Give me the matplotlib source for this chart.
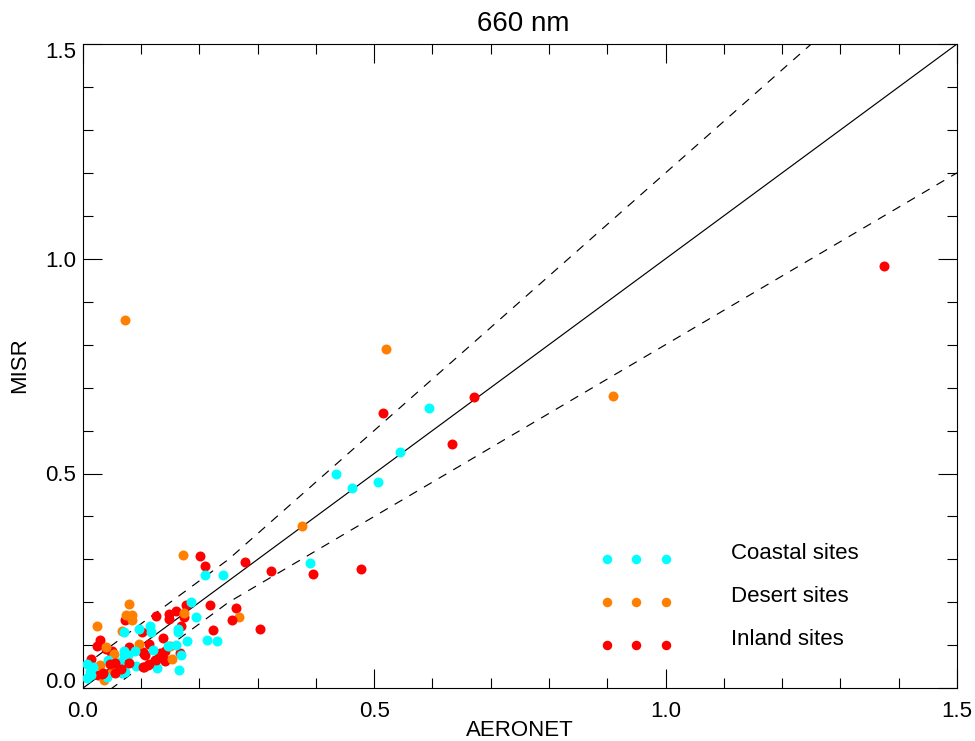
import matplotlib
matplotlib.use("Agg")
import matplotlib.pyplot as plt
from matplotlib.ticker import MultipleLocator
from matplotlib.transforms import ScaledTranslation

plt.rcParams['font.family'] = ['Liberation Sans', 'DejaVu Sans']

inland_x = [1.374,.671,.633,.516,.477,.395,.323,.279,.305,.263,.218,.224,.201,.209,
            .177,.160,.148,.148,.173,.126,.073,.168,.102,.137,.114,.080,.029,.024,.015,
            .050,.104,.107,.134,.142,.167,.124,.142,.070,.067,
            .053,.027,.038,.040,.106,.132,.141,.112,.049]
inland_y = [.984,.678,.568,.640,.277,.267,.274,.294,.137,.188,.194,.136,.309,.284,
            .194,.179,.172,.162,.165,.168,.160,.145,.130,.117,.102,.095,.113,.098,.068,
            .088,.085,.077,.081,.088,.082,.067,.064,.058,.038,
            .038,.030,.034,.092,.081,.082,.065,.054,.085]
inland_top_x = [.256,.079,.104,.113,.033,.047,.055,.035,.055,.066,.106,.126]
inland_top_y = [.159,.060,.050,.056,.034,.056,.058,.035,.035,.046,.050,.065]

desert_x = [.073,.520,.909,.377,.172,.080,.085,.075,.084,.025,.173,.268,.067,.097,.040,
            .053,.030,.050,.036,.150,.154]
desert_y = [.858,.789,.680,.379,.310,.196,.171,.170,.158,.146,.176,.165,.133,.104,.096,
            .081,.055,.037,.020,.098,.069]

coastal_x = [.594,.544,.507,.462,.434,.390,.210,.241,.185,.194,.164,.163,.115,.117,.097,
             .070,.179,.214,.230,.160,.147,.120,.090,.070,.070,.078,.044,.064,.168,.128,
             .165,.091,.073,.067,.041,.007,.018,.013,.014,.008]
coastal_y = [.652,.549,.480,.466,.498,.291,.263,.264,.201,.165,.139,.132,.144,.130,.137,
             .131,.111,.113,.109,.100,.099,.090,.088,.087,.077,.077,.065,.061,.077,.047,
             .042,.051,.038,.036,.026,.057,.050,.038,.030,.024]

one_x = [0, 1.5]
one_y = [0, 1.5]
env_x = [0, .25, 1.5]
env_upper = [.05, .30, 1.80]
env_lower = [-.05, .20, 1.20]

legend_labels = ['Coastal sites', 'Desert sites', 'Inland sites']
legend_colors = ['#00ffff', '#ff8000', '#ff0000']
legend_xs = [.90, .95, 1.00]
legend_ys = [.30, .20, .10]
legend_text_x = 1.112
y_tick_values = [0, .5, 1.0, 1.5]
y_tick_labels = ['0.0', '0.5', '1.0', '1.5']
x_tick_values = [0, .5, 1.0, 1.5]
x_tick_labels = ['0.0', '0.5', '1.0', '1.5']

W, H = 975, 741
L, R, T, B = 82.7, 957, 44, 688.3
fig = plt.figure(figsize=(W/100, H/100), dpi=100)
ax = fig.add_axes([L/W, 1-B/H, (R-L)/W, (B-T)/H])
ax.set_xlim(0, 1.5)
ax.set_ylim(0, 1.5)

ms = 10*0.72
ax.plot(one_x, one_y, color='k', lw=0.85, zorder=1)
for e in (env_upper, env_lower):
    ax.plot(env_x, e, color='k', lw=0.85, dashes=(7.6, 6.8), zorder=1)

ax.plot(inland_x, inland_y, 'o', color='#ff0000', ms=ms, mew=0, zorder=2)
ax.plot(desert_x, desert_y, 'o', color='#ff8000', ms=ms, mew=0, zorder=3)
ax.plot(coastal_x, coastal_y, 'o', color='#00ffff', ms=ms, mew=0, zorder=4)
ax.plot(inland_top_x, inland_top_y, 'o', color='#ff0000', ms=ms, mew=0, zorder=5)

for lab, col, ly in zip(legend_labels, legend_colors, legend_ys):
    ax.plot(legend_xs, [ly]*3, 'o', color=col, ms=ms*0.95, mew=0, zorder=3)
    ax.text(legend_text_x, ly, lab, fontsize=16, color='k', ha='left', va='baseline')

ax.xaxis.set_minor_locator(MultipleLocator(.1))
ax.yaxis.set_minor_locator(MultipleLocator(.1))
ax.set_xticks(x_tick_values)
ax.set_yticks(y_tick_values)
ax.set_xticklabels(x_tick_labels)
ylabs = ax.set_yticklabels(y_tick_labels)
ax.tick_params(which='major', direction='in', top=True, right=True, length=13.7, width=0.8, labelsize=16)
ax.tick_params(which='minor', direction='in', top=True, right=True, length=6.9, width=0.8)
ax.tick_params(axis='x', which='major', pad=9)
ax.tick_params(axis='y', which='major', pad=5)
# labels sit on the tick at the bottom, below it at the top, centred in between
label_shift_px = [0, 7.9, 7.9, 13.5]
for lab, dy in zip(ylabs, label_shift_px):
    lab.set_va('baseline')
    lab.set_transform(lab.get_transform() + ScaledTranslation(0, -dy/100, fig.dpi_scale_trans))
for s in ax.spines.values():
    s.set_linewidth(0.8)

fig.text(520/W, 1-736/H, 'AERONET', fontsize=16, ha='center', va='baseline')
fig.text(19.5/W, 1-365/H, 'MISR', fontsize=16, ha='center', va='center', rotation=90)
fig.text(523/W, 1-24/H, '660 nm', fontsize=20, ha='center', va='center')

fig.savefig('out.png', dpi=100)
